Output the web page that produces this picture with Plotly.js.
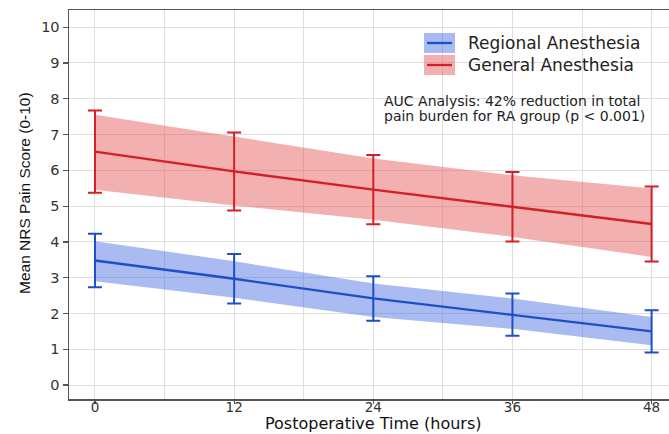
<!DOCTYPE html>
<html>
<head>
<meta charset="utf-8">
<script src="https://cdn.plot.ly/plotly-3.0.1.min.js"></script>
<style>
  html, body { margin: 0; padding: 0; background: #ffffff; }
  #chart { width: 669px; height: 434px; }
</style>
</head>
<body>
<div id="chart"></div>
<script>
// ---- data ----
const hours = [0, 12, 24, 36, 48];
const xTickLabels = ['0', '12', '24', '36', '48'];
const yTickVals = [0, 1, 2, 3, 4, 5, 6, 7, 8, 9, 10];

const xTitle = 'Postoperative Time (hours)';
const yTitle = 'Mean NRS Pain Score (0-10)';

const raName = 'Regional Anesthesia';
const raMean = [3.48, 2.97, 2.42, 1.97, 1.50];
const raSD = [0.75, 0.69, 0.62, 0.59, 0.59];
const raBandUpper = [4.02, 3.46, 2.84, 2.42, 1.90];
const raBandLower = [2.90, 2.44, 1.90, 1.57, 1.11];

const gaName = 'General Anesthesia';
const gaMean = [6.52, 5.97, 5.46, 4.98, 4.50];
const gaSD = [1.15, 1.09, 0.97, 0.97, 1.05];
const gaBandUpper = [7.55, 6.93, 6.33, 5.86, 5.49];
const gaBandLower = [5.46, 5.02, 4.62, 4.14, 3.58];

const aucLine1 = 'AUC Analysis: 42% reduction in total';
const aucLine2 = 'pain burden for RA group (p < 0.001)';

// ---- styles ----
const raLine = '#1f4fc6';
const raFill = 'rgba(65,105,225,0.45)';
const gaLine = '#d31f26';
const gaFill = 'rgba(228,80,80,0.45)';
const gridColor = '#dedede';
const axisColor = '#555555';

// plot-area geometry in pixels, used to place the legend / notes / titles
const L = 69, T = 10, W = 600, H = 389;
const px = x => (x - L) / W;
const py = y => (T + H - y) / H;

function band(upper, lower, fill) {
  return {
    x: hours.concat(hours.slice().reverse()),
    y: upper.concat(lower.slice().reverse()),
    type: 'scatter', mode: 'lines', fill: 'toself',
    fillcolor: fill, line: { width: 0 }, hoverinfo: 'skip', showlegend: false
  };
}
function meanLine(name, mean, sd, color) {
  return {
    x: hours, y: mean, name: name, type: 'scatter', mode: 'lines',
    line: { color: color, width: 2.3 },
    error_y: { type: 'data', array: sd, visible: true, color: color, thickness: 2, width: 7 },
    showlegend: false
  };
}

const data = [
  band(gaBandUpper, gaBandLower, gaFill),
  band(raBandUpper, raBandLower, raFill),
  meanLine(gaName, gaMean, gaSD, gaLine),
  meanLine(raName, raMean, raSD, raLine)
];

const legendFont = { family: 'DejaVu Sans', size: 17, color: '#222222' };
const noteFont = { family: 'DejaVu Sans', size: 14, color: '#222222' };

const shapes = [
  // white boxes behind legend and note (hide grid lines)
  { type: 'rect', xref: 'paper', yref: 'paper', layer: 'between',
    x0: px(415), x1: px(652), y0: py(83), y1: py(24),
    fillcolor: '#ffffff', line: { width: 0 } },
  { type: 'rect', xref: 'paper', yref: 'paper', layer: 'between',
    x0: px(378), x1: px(652), y0: py(127), y1: py(88),
    fillcolor: '#ffffff', line: { width: 0 } },
  // legend swatches
  { type: 'rect', xref: 'paper', yref: 'paper', layer: 'above',
    x0: px(424), x1: px(455), y0: py(53), y1: py(33),
    fillcolor: raFill, line: { width: 0 } },
  { type: 'line', xref: 'paper', yref: 'paper', layer: 'above',
    x0: px(427), x1: px(452), y0: py(43), y1: py(43),
    line: { color: raLine, width: 2.3 } },
  { type: 'rect', xref: 'paper', yref: 'paper', layer: 'above',
    x0: px(424), x1: px(455), y0: py(75), y1: py(55),
    fillcolor: gaFill, line: { width: 0 } },
  { type: 'line', xref: 'paper', yref: 'paper', layer: 'above',
    x0: px(427), x1: px(452), y0: py(65), y1: py(65),
    line: { color: gaLine, width: 2.3 } }
];

const annotations = [
  { xref: 'paper', yref: 'paper', x: px(466), y: py(43), text: raName,
    xanchor: 'left', yanchor: 'middle', showarrow: false, font: legendFont },
  { xref: 'paper', yref: 'paper', x: px(466), y: py(65), text: gaName,
    xanchor: 'left', yanchor: 'middle', showarrow: false, font: legendFont },
  { xref: 'paper', yref: 'paper', x: px(382), y: py(101), text: aucLine1,
    xanchor: 'left', yanchor: 'middle', showarrow: false, font: noteFont },
  { xref: 'paper', yref: 'paper', x: px(382), y: py(116), text: aucLine2,
    xanchor: 'left', yanchor: 'middle', showarrow: false, font: noteFont },
  // axis titles
  { xref: 'paper', yref: 'paper', x: px(373), y: py(433.5), text: xTitle,
    xanchor: 'center', yanchor: 'bottom', showarrow: false, borderpad: 0,
    font: { family: 'DejaVu Sans', size: 16, color: '#111111' } },
  { xref: 'paper', yref: 'paper', x: px(24), y: py(193), text: yTitle, textangle: -90,
    xanchor: 'center', yanchor: 'middle', showarrow: false, borderpad: 0,
    font: { family: 'Liberation Sans', size: 15.5, color: '#111111' } }
];

const layout = {
  width: 669, height: 434,
  margin: { l: L, r: 669 - L - W, t: T, b: 434 - T - H, pad: 0 },
  paper_bgcolor: '#ffffff', plot_bgcolor: '#ffffff',
  showlegend: false,
  xaxis: {
    range: [-2.24, 49.5],
    tickmode: 'array', tickvals: hours, ticktext: xTickLabels,
    ticks: 'outside', ticklen: 3, tickwidth: 1.2, tickcolor: axisColor,
    ticklabelstandoff: -8,
    tickfont: { family: 'DejaVu Sans', size: 13.5, color: '#333333' },
    showgrid: true, gridcolor: gridColor, gridwidth: 1,
    minor: { dtick: 6, tick0: 0, showgrid: true, gridcolor: gridColor, gridwidth: 1, ticks: '' },
    showline: true, linecolor: axisColor, linewidth: 1.5, mirror: true,
    zeroline: false
  },
  yaxis: {
    range: [-0.39, 10.48],
    tickmode: 'array', tickvals: yTickVals,
    ticks: 'outside', ticklen: 5, tickwidth: 1.2, tickcolor: axisColor,
    tickfont: { family: 'DejaVu Sans', size: 14.5, color: '#333333' },
    showgrid: true, gridcolor: gridColor, gridwidth: 1,
    showline: true, linecolor: axisColor, linewidth: 1.5,
    zeroline: false
  },
  shapes: shapes,
  annotations: annotations
};

Plotly.newPlot('chart', data, layout, { displayModeBar: false, staticPlot: true });
</script>
</body>
</html>
